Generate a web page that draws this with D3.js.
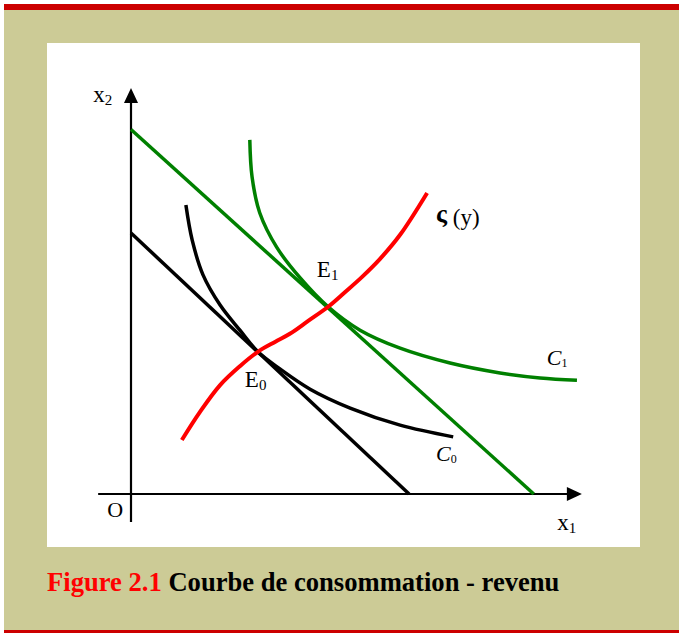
<!DOCTYPE html>
<html>
<head>
<meta charset="utf-8">
<script src="https://cdn.jsdelivr.net/npm/d3@7"></script>
<style>
  body { margin: 0; background: #fff; }
  svg text { font-family: "Liberation Serif", "Times New Roman", serif; }
</style>
</head>
<body>
<div class="wrapper"></div>
<script>
// budget lines: intercepts on x1 / x2 axes
var budget0 = [[0, 58], [61.8, 0]];
var budget1 = [[0, 81], [89.5, 0]];

// indifference curves (x1, x2)
var curveC0 = [[12.2, 64.2], [13.6, 56.4], [16.0, 48.7], [19.8, 42.0], [24.2, 36.4], [28.2, 31.6],
  [33.1, 27.8], [39.8, 23.3], [48.7, 19.1], [59.8, 15.3], [71.6, 12.7]];
var curveC1 = [[26.4, 78.7], [26.9, 70.5], [28.6, 62.5], [32.4, 54.8], [37.6, 48.0], [43.8, 41.6],
  [50.9, 36.4], [59.8, 32.4], [70.9, 29.1], [82.0, 26.9], [90.9, 25.8], [99.1, 25.3]];

// income-consumption curve
var incomeCurve = [[11.3, 12.0], [15.3, 18.2], [19.8, 24.2], [24.2, 28.4], [28.2, 31.6], [32.0, 33.8],
  [35.3, 35.6], [39.3, 38.4], [43.8, 41.6], [47.6, 44.9], [51.3, 48.2], [55.3, 52.2], [59.8, 57.6], [65.8, 66.9]];

var width = 679,
    height = 633;

var x = d3.scaleLinear().domain([0, 100]).range([131, 581]);
var y = d3.scaleLinear().domain([0, 100]).range([494, 44]);

var svg = d3.select(".wrapper").append("svg")
    .attr("width", width)
    .attr("height", height);

// frame: khaki box with red rules
svg.append("rect").attr("x", 4).attr("y", 10).attr("width", 675).attr("height", 620).attr("fill", "#cccb96");
svg.append("rect").attr("x", 4).attr("y", 4).attr("width", 675).attr("height", 6).attr("fill", "#cc0000");
svg.append("rect").attr("x", 4).attr("y", 630).attr("width", 675).attr("height", 3).attr("fill", "#cc0000");
svg.append("rect").attr("x", 47).attr("y", 43).attr("width", 593).attr("height", 504).attr("fill", "#fff");

var line = d3.line()
    .x(function(d) { return x(d[0]); })
    .y(function(d) { return y(d[1]); });

var smooth = d3.line()
    .x(function(d) { return x(d[0]); })
    .y(function(d) { return y(d[1]); })
    .curve(d3.curveCatmullRom.alpha(0.5));

// axes
svg.append("line")
    .attr("x1", x(-7.3)).attr("y1", y(0)).attr("x2", x(97)).attr("y2", y(0))
    .attr("stroke", "#000").attr("stroke-width", 2.2);
svg.append("line")
    .attr("x1", x(0)).attr("y1", y(-6.2)).attr("x2", x(0)).attr("y2", y(87))
    .attr("stroke", "#000").attr("stroke-width", 2.2);
svg.append("path")
    .attr("d", "M" + (x(100.2)) + "," + y(0) + "L" + (x(100.2) - 15) + "," + (y(0) - 7) + "L" + (x(100.2) - 15) + "," + (y(0) + 7) + "Z")
    .attr("fill", "#000");
svg.append("path")
    .attr("d", "M" + x(0) + "," + y(90.2) + "L" + (x(0) - 7) + "," + (y(90.2) + 15) + "L" + (x(0) + 7) + "," + (y(90.2) + 15) + "Z")
    .attr("fill", "#000");

svg.append("path").datum(budget0).attr("d", line)
    .attr("fill", "none").attr("stroke", "#000").attr("stroke-width", 3.5);
svg.append("path").datum(budget1).attr("d", line)
    .attr("fill", "none").attr("stroke", "#008000").attr("stroke-width", 3.5);
svg.append("path").datum(curveC0).attr("d", smooth)
    .attr("fill", "none").attr("stroke", "#000").attr("stroke-width", 3.5);
svg.append("path").datum(curveC1).attr("d", smooth)
    .attr("fill", "none").attr("stroke", "#008000").attr("stroke-width", 3.5);
svg.append("path").datum(incomeCurve).attr("d", smooth)
    .attr("fill", "none").attr("stroke", "#ff0000").attr("stroke-width", 4);

// labels
function label(px, py, main, sub, opts) {
  opts = opts || {};
  var t = svg.append("text")
      .attr("x", x(px)).attr("y", y(py))
      .attr("font-size", opts.size || 23)
      .attr("fill", "#000");
  t.append("tspan").text(main)
      .attr("font-style", opts.italic ? "italic" : null)
      .attr("font-weight", opts.bold ? "bold" : null);
  if (sub) {
    t.append("tspan").text(sub).attr("font-size", opts.subSize || 15).attr("dy", opts.subDy || 3);
  }
  return t;
}

label(-8.4, 87.1, "x", "2");
label(-5.3, -5.1, "O", null, { size: 22 });
label(94.7, -8.0, "x", "1");
label(41.3, 48.2, "E", "1");
label(25.3, 23.8, "E", "0");
label(92.4, 28.7, "C", "1", { italic: true, size: 22, subSize: 12, subDy: 2 });
label(67.8, 7.3, "C", "0", { italic: true, size: 22, subSize: 12, subDy: 2 });

var zeta = svg.append("text")
    .attr("x", x(67.8)).attr("y", y(59.8))
    .attr("font-size", 23);
zeta.append("tspan").text("ς").attr("font-weight", "bold").attr("font-size", 26).attr("dy", -3);
zeta.append("tspan").text(" (y)").attr("dy", 3);

// caption
var caption = svg.append("text")
    .attr("x", 47).attr("y", 591)
    .attr("font-size", 26.6)
    .attr("font-weight", "bold");
caption.append("tspan").text("Figure 2.1").attr("fill", "#ff0000");
caption.append("tspan").text(" Courbe de consommation - revenu").attr("fill", "#000");
</script>
</body>
</html>
